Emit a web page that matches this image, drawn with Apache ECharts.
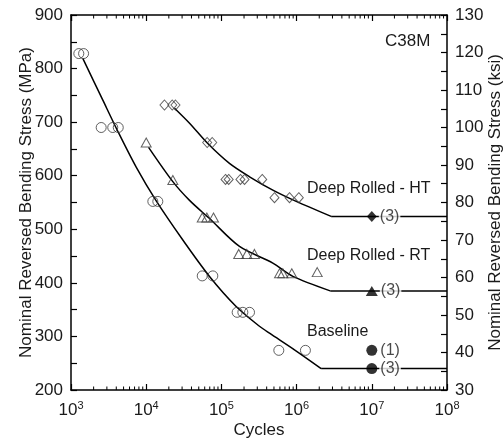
<!DOCTYPE html>
<html><head><meta charset="utf-8">
<script src="https://cdn.jsdelivr.net/npm/echarts@6/dist/echarts.min.js"></script>
<style>html,body{margin:0;padding:0;background:#fff}#c{width:503px;height:440px}</style>
</head><body><div id="c"></div>
<script>
// ---- Data ----
const baselineCycles = [1270, 1470, 2520, 3590, 4250, 12250, 14270, 55600, 76900, 162000, 192800, 236500, 580000, 1310000];
const baselineStress = [828, 828, 690, 690, 690, 552, 552, 413, 413, 345, 345, 345, 274, 274];

const rtCycles = [10000, 22600, 55600, 64000, 78500, 170000, 218000, 275000, 593000, 656000, 863000, 1880000];
const rtStress = [662, 592, 522, 522, 522, 454, 454, 454, 418, 418, 418, 420];

const htCycles = [17500, 22200, 24500, 64700, 75500, 113500, 125000, 179000, 203000, 349000, 508000, 805000, 1070000];
const htStress = [732, 732, 732, 662, 662, 593, 593, 593, 593, 593, 559, 559, 559];

// fitted curves (sloped part) and endurance plateaus
const baselineFitCycles = [1435, 2650, 4190, 7360, 13590, 30700, 69500, 157000, 321000, 436000, 937000, 2120000];
const baselineFitStress = [819, 741, 683, 616, 553, 480, 412, 356, 319, 306, 275, 240];
const baselinePlateauCycles = [2120000, 100000000];
const baselinePlateauStress = [240, 240];

const rtFitCycles = [10750, 22600, 37700, 69500, 174000, 483000, 892000, 2800000];
const rtFitStress = [653, 589, 554, 520, 468, 437, 412, 385];
const rtPlateauCycles = [2800000, 100000000];
const rtPlateauStress = [385, 385];

const htFitCycles = [23800, 37700, 65900, 128000, 237000, 483000, 988000, 2880000];
const htFitStress = [726, 698, 660, 623, 598, 573, 552, 524];
const htPlateauCycles = [2880000, 100000000];
const htPlateauStress = [524, 524];

// run-outs (filled symbols) with specimen counts
const runoutCycles = [10000000];
const htRunoutStress = [524];
const rtRunoutStress = [385];
const baseRunout1Stress = [274];
const baseRunout3Stress = [240];
const runoutLabels = { ht: '(3)', rt: '(3)', base1: '(1)', base3: '(3)' };

// axis ticks
const cycleDecadeExponents = [3, 4, 5, 6, 7, 8];
const mpaTicks = [200, 300, 400, 500, 600, 700, 800, 900];
const ksiTicks = [30, 40, 50, 60, 70, 80, 90, 100, 110, 120, 130];

// annotation texts
const curveNames = ['Deep Rolled - HT', 'Deep Rolled - RT', 'Baseline'];
const materialName = 'C38M';

// ---- Chart ----
const FONT = '"Liberation Sans", Arial, Helvetica, sans-serif';
const zip = (xs, ys) => xs.map((x, i) => [x, ys[i]]);
const xMin = Math.pow(10, cycleDecadeExponents[0]);
const xMax = Math.pow(10, cycleDecadeExponents[cycleDecadeExponents.length - 1]);

const minorTicks = [];
for (let k = 0; k < cycleDecadeExponents.length - 1; k++) {
  for (let m = 2; m <= 9; m++) minorTicks.push(m * Math.pow(10, cycleDecadeExponents[k]));
}

const lineCol = '#000';
const markCol = '#3a3a3a';
const hollow = (symbol, size) => ({
  type: 'scatter', symbol, symbolSize: size, z: 5,
  itemStyle: { color: 'rgba(0,0,0,0)', borderColor: markCol, borderWidth: 1 }
});
const fitLine = (data, smooth) => ({
  type: 'line', data, smooth, symbol: 'none', z: 3, silent: true,
  lineStyle: { color: lineCol, width: 1.5 }
});
const runout = (symbol, size, data, text) => ({
  type: 'scatter', symbol, symbolSize: size, data, z: 6,
  itemStyle: { color: '#000' },
  label: {
    show: true, position: 'right', distance: 2, formatter: text,
    fontFamily: FONT, fontSize: 16, color: '#1a1a1a',
    backgroundColor: '#fff', padding: [0, 1, 0, 1]
  }
});

const chart = echarts.init(document.getElementById('c'));
chart.setOption({
  animation: false,
  backgroundColor: '#fff',
  grid: { left: 71, right: 56, top: 15, bottom: 50, containLabel: false, outerBoundsMode: 'none' },
  xAxis: [
    {
      type: 'log', logBase: 10, min: xMin, max: xMax, position: 'bottom',
      axisLine: { lineStyle: { color: '#000', width: 1.5 } },
      axisTick: { inside: true, length: 6, lineStyle: { color: '#000', width: 1.2 } },
      splitLine: { show: false },
      axisLabel: {
        margin: 10, color: '#1a1a1a', fontFamily: FONT,
        formatter: v => '{b|10}{s|' + Math.round(Math.log10(v)) + '}',
        rich: {
          b: { fontSize: 17, fontFamily: FONT, color: '#1a1a1a' },
          s: { fontSize: 11, fontFamily: FONT, color: '#1a1a1a', verticalAlign: 'bottom', padding: [0, 0, 9, 0] }
        }
      },
      name: 'Cycles', nameLocation: 'middle', nameGap: 32, nameMoveOverlap: false,
      nameTextStyle: { fontFamily: FONT, fontSize: 17, color: '#1a1a1a', verticalAlign: 'top' }
    },
    {
      type: 'log', logBase: 10, min: xMin, max: xMax, position: 'top',
      axisLine: { lineStyle: { color: '#000', width: 1.5 } },
      axisTick: { inside: true, length: 6, lineStyle: { color: '#000', width: 1.2 } },
      axisLabel: { show: false }, splitLine: { show: false }
    }
  ],
  yAxis: [
    {
      type: 'value', min: mpaTicks[0], max: mpaTicks[mpaTicks.length - 1], interval: 100, position: 'left',
      axisLine: { show: true, lineStyle: { color: '#000', width: 1.5 } },
      axisTick: { inside: true, length: 6, lineStyle: { color: '#000', width: 1.2 } },
      minorTick: { show: true, splitNumber: 2, length: 6, lineStyle: { color: '#000', width: 1.2 } },
      splitLine: { show: false },
      axisLabel: { margin: 8, fontFamily: FONT, fontSize: 17, color: '#1a1a1a' },
      name: 'Nominal Reversed Bending Stress (MPa)', nameLocation: 'middle', nameGap: 36, nameMoveOverlap: false,
      nameTextStyle: { fontFamily: FONT, fontSize: 17, color: '#1a1a1a' }
    },
    {
      type: 'value', min: ksiTicks[0], max: ksiTicks[ksiTicks.length - 1], interval: 10, position: 'right',
      axisLine: { show: true, lineStyle: { color: '#000', width: 1.5 } },
      axisTick: { inside: true, length: 6, lineStyle: { color: '#000', width: 1.2 } },
      minorTick: { show: true, splitNumber: 2, length: 6, lineStyle: { color: '#000', width: 1.2 } },
      splitLine: { show: false },
      axisLabel: { margin: 8, fontFamily: FONT, fontSize: 17, color: '#1a1a1a' },
      name: 'Nominal Reversed Bending Stress (ksi)', nameLocation: 'middle', nameGap: 40, nameRotate: 90, nameMoveOverlap: false,
      nameTextStyle: { fontFamily: FONT, fontSize: 17, color: '#1a1a1a' }
    }
  ],
  graphic: [
    { type: 'text', left: 385, top: 33, style: { text: materialName, font: '17px ' + FONT, fill: '#1a1a1a' } },
    { type: 'text', left: 307, top: 181, style: { text: curveNames[0], font: '16px ' + FONT, fill: '#1a1a1a' } },
    { type: 'text', left: 307, top: 248, style: { text: curveNames[1], font: '16px ' + FONT, fill: '#1a1a1a' } },
    { type: 'text', left: 307, top: 324, style: { text: curveNames[2], font: '16px ' + FONT, fill: '#1a1a1a' } }
  ],
  series: [
    {
      type: 'custom', silent: true, clip: false, z: 4,
      data: minorTicks.map(v => [v, mpaTicks[0]]),
      encode: { x: 0, y: 1 },
      renderItem: (params, api) => {
        const v = api.value(0);
        const pb = api.coord([v, mpaTicks[0]]);
        const pt = api.coord([v, mpaTicks[mpaTicks.length - 1]]);
        return {
          type: 'group', children: [
            { type: 'line', shape: { x1: pb[0], y1: pb[1], x2: pb[0], y2: pb[1] - 3.5 }, style: { stroke: '#000', lineWidth: 1 } },
            { type: 'line', shape: { x1: pt[0], y1: pt[1], x2: pt[0], y2: pt[1] + 3.5 }, style: { stroke: '#000', lineWidth: 1 } }
          ]
        };
      }
    },
    fitLine(zip(baselineFitCycles, baselineFitStress), 0.3),
    fitLine(zip(baselinePlateauCycles, baselinePlateauStress), false),
    fitLine(zip(rtFitCycles, rtFitStress), 0.3),
    fitLine(zip(rtPlateauCycles, rtPlateauStress), false),
    fitLine(zip(htFitCycles, htFitStress), 0.3),
    fitLine(zip(htPlateauCycles, htPlateauStress), false),
    Object.assign(hollow('circle', 10), { data: zip(baselineCycles, baselineStress) }),
    Object.assign(hollow('triangle', [10, 9]), { data: zip(rtCycles, rtStress) }),
    Object.assign(hollow('diamond', [9, 10]), { data: zip(htCycles, htStress) }),
    runout('diamond', [10, 11], zip(runoutCycles, htRunoutStress), runoutLabels.ht),
    runout('triangle', [12, 10], zip(runoutCycles, rtRunoutStress), runoutLabels.rt),
    runout('circle', 11, zip(runoutCycles, baseRunout1Stress), runoutLabels.base1),
    runout('circle', 11, zip(runoutCycles, baseRunout3Stress), runoutLabels.base3)
  ]
});
</script>
</body></html>
